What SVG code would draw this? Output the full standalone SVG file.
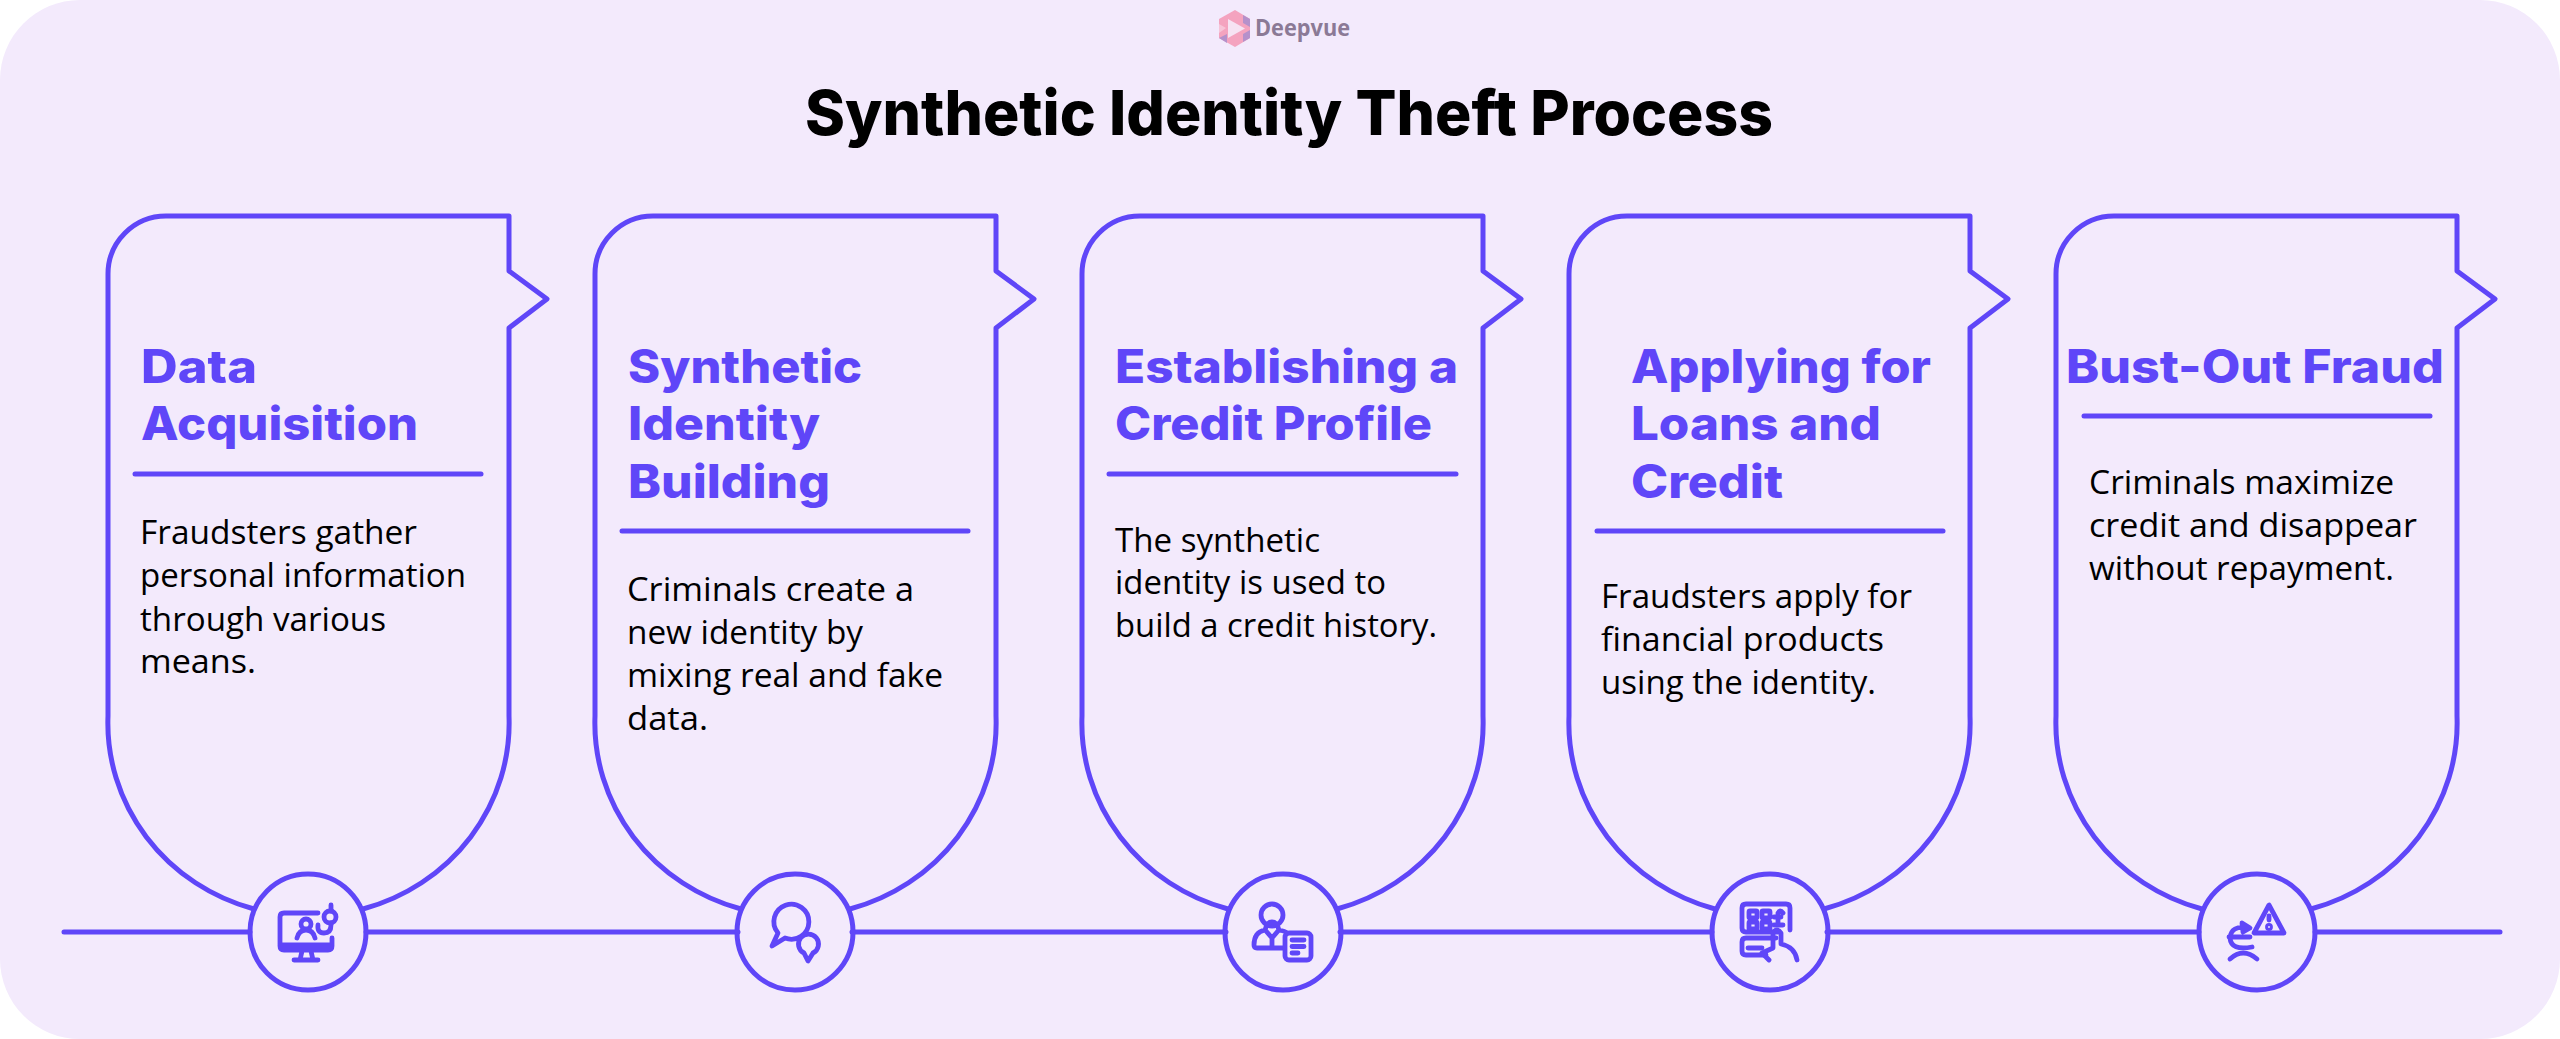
<svg xmlns="http://www.w3.org/2000/svg" width="2560" height="1039" viewBox="0 0 2560 1039">
<style>
.h{font-family:"Inter","Liberation Sans",sans-serif;font-weight:800;font-size:46px;fill:#5f46f8}
.b{font-family:"Open Sans","Liberation Sans",sans-serif;font-size:32px;fill:#000}
.t{font-family:"Inter","Liberation Sans",sans-serif;font-weight:800;font-size:62px;fill:#000}
.s{fill:none;stroke:#5f46f8;stroke-width:5;stroke-linejoin:round;stroke-linecap:round}
.i{fill:none;stroke:#5f46f8;stroke-width:4.800;stroke-linejoin:round;stroke-linecap:round}
</style>
<defs>
<path id="card" class="s" d="M254 909A200 193 0 0 1 108 716V274A58 58 0 0 1 166 216H509V271L547 299L509 328V716A200 193 0 0 1 363 909"/>
</defs>
<rect width="2560" height="1039" fill="#fff"/>
<rect width="2560" height="1039" rx="80" fill="#f3eafc"/>
<g id="logo">
<path d="M1235 10L1250 19V38L1235 47L1219 38V19Z" fill="#f4a3bf"/>
<path d="M1228 19L1245 28.500L1228 38Z" fill="#f6e3f3"/>
<path d="M1243 15L1250 19V27L1243 23Z M1243 42L1250 38V30L1243 34Z M1219 38L1227 43L1227 34Z" fill="#b591cb"/>
<path d="M1219 24L1226 28L1219 33Z" fill="#f7c4d8"/>
<text x="1255" y="36" font-family="Open Sans,Liberation Sans,sans-serif" font-weight="700" font-size="24" fill="#8b7a96" textLength="95" lengthAdjust="spacingAndGlyphs">Deepvue</text>
</g>
<text id="title" class="t" x="805" y="135" textLength="968" lengthAdjust="spacingAndGlyphs">Synthetic Identity Theft Process</text>
<g id="connectors">
<path class="s" d="M64 932H250M366 932H738M852 932H1226M1340 932H1712M1827 932H2199M2315 932H2500"/>
</g>
<g id="node1">
<use href="#card"/>
<circle class="s" cx="308" cy="932" r="58"/>
<text class="h" x="141" y="383" textLength="116" lengthAdjust="spacingAndGlyphs">Data</text>
<text class="h" x="141" y="440" textLength="277" lengthAdjust="spacingAndGlyphs">Acquisition</text>
<path class="s" d="M135 474H481"/>
<text class="b" x="140" y="544" textLength="277" lengthAdjust="spacingAndGlyphs">Fraudsters gather</text>
<text class="b" x="140" y="587" textLength="326" lengthAdjust="spacingAndGlyphs">personal information</text>
<text class="b" x="140" y="631" textLength="246" lengthAdjust="spacingAndGlyphs">through various</text>
<text class="b" x="140" y="673" textLength="116" lengthAdjust="spacingAndGlyphs">means.</text>
<path class="i" d="M318 913H284Q280 913 280 917V946Q280 950 284 950H328Q332 950 332 946V938M280 945H332M302 951L300 960M311 951L313 960M294 960H318"/>
<circle class="i" cx="306" cy="924" r="5"/>
<path class="i" d="M297 938Q299 930 306 930T315 938"/>
<path class="i" d="M331 905V911M331 923V925Q331 933 324 933T318 925"/>
<circle class="i" cx="330" cy="917" r="6"/>
</g>
<g id="node2">
<use href="#card" x="487"/>
<circle class="s" cx="795" cy="932" r="58"/>
<text class="h" x="628" y="383" textLength="234" lengthAdjust="spacingAndGlyphs">Synthetic</text>
<text class="h" x="628" y="440" textLength="192" lengthAdjust="spacingAndGlyphs">Identity</text>
<text class="h" x="628" y="498" textLength="202" lengthAdjust="spacingAndGlyphs">Building</text>
<path class="s" d="M622 531H968"/>
<text class="b" x="627" y="601" textLength="287" lengthAdjust="spacingAndGlyphs">Criminals create a</text>
<text class="b" x="627" y="644" textLength="236" lengthAdjust="spacingAndGlyphs">new identity by</text>
<text class="b" x="627" y="687" textLength="316" lengthAdjust="spacingAndGlyphs">mixing real and fake</text>
<text class="b" x="627" y="730" textLength="81" lengthAdjust="spacingAndGlyphs">data.</text>
<path class="i" d="M778 933A17.500 17.500 0 1 1 785 938L772 946Z"/>
<path class="i" d="M804 953A10 10 0 1 1 813 953L808 961Z"/>
</g>
<g id="node3">
<use href="#card" x="974"/>
<circle class="s" cx="1283" cy="932" r="58"/>
<text class="h" x="1115" y="383" textLength="343" lengthAdjust="spacingAndGlyphs">Establishing a</text>
<text class="h" x="1115" y="440" textLength="317" lengthAdjust="spacingAndGlyphs">Credit Profile</text>
<path class="s" d="M1109 474H1456"/>
<text class="b" x="1115" y="552" textLength="205" lengthAdjust="spacingAndGlyphs">The synthetic</text>
<text class="b" x="1115" y="594" textLength="271" lengthAdjust="spacingAndGlyphs">identity is used to</text>
<text class="b" x="1115" y="637" textLength="322" lengthAdjust="spacingAndGlyphs">build a credit history.</text>
<circle class="i" cx="1272" cy="915" r="11"/>
<path class="i" d="M1283 948H1257Q1254 948 1254 945Q1254 932 1265 930Q1267 922 1272 922T1279 930Q1285 931 1287 933M1266 931L1272 938L1278 931M1272 938V948"/>
<rect class="i" x="1285" y="933" width="26" height="27" rx="4"/>
<path class="i" d="M1292 940H1304M1292 946.500H1304M1292 953H1298"/>
</g>
<g id="node4">
<use href="#card" x="1461"/>
<circle class="s" cx="1770" cy="932" r="58"/>
<text class="h" x="1631" y="383" textLength="300" lengthAdjust="spacingAndGlyphs">Applying for</text>
<text class="h" x="1631" y="440" textLength="250" lengthAdjust="spacingAndGlyphs">Loans and</text>
<text class="h" x="1631" y="498" textLength="152" lengthAdjust="spacingAndGlyphs">Credit</text>
<path class="s" d="M1597 531H1943"/>
<text class="b" x="1601" y="608" textLength="311" lengthAdjust="spacingAndGlyphs">Fraudsters apply for</text>
<text class="b" x="1601" y="651" textLength="283" lengthAdjust="spacingAndGlyphs">financial products</text>
<text class="b" x="1601" y="694" textLength="275" lengthAdjust="spacingAndGlyphs">using the identity.</text>
<path class="i" d="M1778 932H1746Q1742 932 1742 928V908Q1742 904 1746 904H1786Q1790 904 1790 908V930"/>
<rect class="i" x="1749" y="911" width="8" height="7" rx="1"/><rect class="i" x="1762" y="911" width="8" height="7" rx="1"/>
<rect class="i" x="1749" y="922" width="8" height="7" rx="1"/><rect class="i" x="1762" y="922" width="8" height="7" rx="1"/>
<path class="i" d="M1783 913Q1780 909 1778 913V924M1774 917H1781M1774 925H1783"/>
<path class="i" d="M1776 938H1746Q1742 938 1742 942V951Q1742 955 1746 955H1766M1748 948H1762"/>
<path class="i" d="M1769 960L1762 953L1773 948V933Q1777 927 1781 933V944Q1795 947 1797 960"/>
</g>
<g id="node5">
<use href="#card" x="1948"/>
<circle class="s" cx="2257" cy="932" r="58"/>
<text class="h" x="2066" y="383" textLength="378" lengthAdjust="spacingAndGlyphs">Bust-Out Fraud</text>
<path class="s" d="M2084 416H2430"/>
<text class="b" x="2089" y="494" textLength="305" lengthAdjust="spacingAndGlyphs">Criminals maximize</text>
<text class="b" x="2089" y="537" textLength="328" lengthAdjust="spacingAndGlyphs">credit and disappear</text>
<text class="b" x="2089" y="580" textLength="305" lengthAdjust="spacingAndGlyphs">without repayment.</text>
<path class="i" d="M2269 905L2254 933H2284Z"/>
<path class="i" d="M2269 916V920"/>
<circle class="i" cx="2269" cy="927" r="1.500"/>
<path class="i" d="M2248 928Q2231 925 2230 938Q2231 951 2252 947M2229 937H2250M2242 923L2250 928L2243 932Z"/>
<path class="i" d="M2230 959Q2243 947 2257 959"/>
</g>
</svg>
